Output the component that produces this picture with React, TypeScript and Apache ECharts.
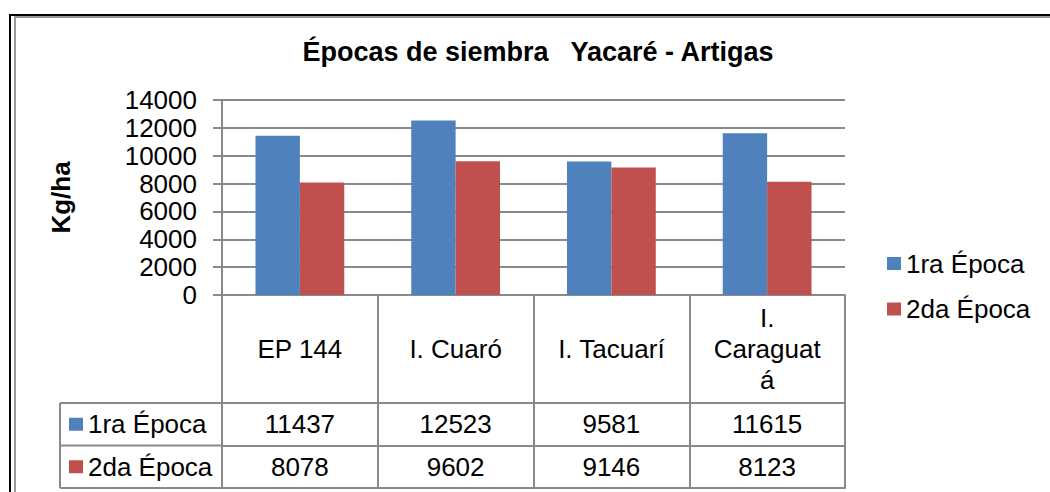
import React, { useEffect, useRef } from "react";
import * as echarts from "echarts";

const titleText = "Épocas de siembra   Yacaré - Artigas";
const yAxisName = "Kg/ha";
const categories = ["EP 144", "I. Cuaró", "I. Tacuarí", "I. Caraguatá"];
const seriesNames = ["1ra Época", "2da Época"];
const primeraEpoca = [11437, 12523, 9581, 11615];
const segundaEpoca = [8078, 9602, 9146, 8123];
const yMin = 0;
const yMax = 14000;
const yInterval = 2000;

const colors = ["#4F81BD", "#C0504D"];
const W = 1050;
const H = 492;
const GRID = { left: 222, right: 205, top: 100, bottom: 197 };
const HEADER_H = 108;
const ROW_H = 42.5;
const ROWHEAD_LEFT = 60;
const FONT = "'Liberation Sans', Arial, sans-serif";
const FS = 26;
const LINE = "#8a8a8a";
const WRAP_W = 114;

// word-wrap like the spreadsheet: break between words, and inside a word that is too long
function wrapLabel(text: string, maxW: number, font: string): string {
  const ctx = document.createElement("canvas").getContext("2d");
  if (!ctx) return text;
  ctx.font = font;
  const w = (s: string) => ctx.measureText(s).width;
  const lines: string[] = [];
  let line = "";
  for (const word of text.split(" ")) {
    const cand = line ? line + " " + word : word;
    if (w(cand) <= maxW) {
      line = cand;
      continue;
    }
    if (line) lines.push(line);
    line = "";
    for (const ch of word) {
      if (w(line + ch) <= maxW || !line) line += ch;
      else {
        lines.push(line);
        line = ch;
      }
    }
  }
  if (line) lines.push(line);
  return lines.join("\n");
}

export default function App() {
  const ref = useRef<HTMLDivElement>(null);
  useEffect(() => {
    const chart = echarts.init(ref.current!, null, { renderer: "svg" });
    const rows = [primeraEpoca, segundaEpoca];
    const axisY0 = H - GRID.bottom;
    const rowTop = axisY0 + HEADER_H;
    const lineStyle = { color: LINE, width: 2 };
    const cssFont = `${FS}px 'Liberation Sans', Arial, sans-serif`;

    const rowAxis = (offset: number, values: number[] | null, tickLen: number) => ({
      type: "category",
      data: categories,
      gridIndex: 0,
      position: "bottom",
      offset,
      axisLine: { show: true, lineStyle },
      axisTick: { show: values !== null, length: tickLen, interval: 0, lineStyle },
      axisLabel: {
        show: values !== null,
        interval: 0,
        margin: tickLen / 2,
        verticalAlign: "middle",
        fontSize: FS,
        fontFamily: FONT,
        color: "#000",
        formatter: (_v: string, i: number) => (values ? String(values[i]) : ""),
      },
      splitLine: { show: false },
    });

    const graphics: any[] = [
      // outer frame
      { type: "rect", shape: { x: 10, y: 15, width: 1200, height: 1200 }, style: { fill: "none", stroke: "#000", lineWidth: 2 }, silent: true },
      { type: "rect", shape: { x: 15, y: 17, width: 1200, height: 1200 }, style: { fill: "none", stroke: "#999", lineWidth: 2 }, silent: true },
      // row header column
      { type: "line", shape: { x1: ROWHEAD_LEFT, y1: rowTop, x2: GRID.left, y2: rowTop }, style: { stroke: LINE, lineWidth: 2 } },
      { type: "line", shape: { x1: ROWHEAD_LEFT, y1: rowTop + ROW_H, x2: GRID.left, y2: rowTop + ROW_H }, style: { stroke: LINE, lineWidth: 2 } },
      { type: "line", shape: { x1: ROWHEAD_LEFT, y1: rowTop + 2 * ROW_H, x2: GRID.left, y2: rowTop + 2 * ROW_H }, style: { stroke: LINE, lineWidth: 2 } },
      { type: "line", shape: { x1: ROWHEAD_LEFT, y1: rowTop, x2: ROWHEAD_LEFT, y2: rowTop + 2 * ROW_H }, style: { stroke: LINE, lineWidth: 2 } },
    ];
    seriesNames.forEach((name, k) => {
      const cy = rowTop + ROW_H * k + ROW_H / 2;
      graphics.push({ type: "rect", shape: { x: ROWHEAD_LEFT + 9, y: cy - 6.5, width: 14, height: 13 }, style: { fill: colors[k] } });
      graphics.push({
        type: "text",
        x: ROWHEAD_LEFT + 28,
        y: cy,
        style: { text: name, fontSize: FS, fontFamily: FONT, fill: "#000", verticalAlign: "middle", align: "left" },
      });
    });

    const option: any = {
      animation: false,
      backgroundColor: "#fff",
      title: {
        text: titleText,
        left: 538,
        textAlign: "center",
        top: 38,
        padding: 0,
        textStyle: { fontSize: 27, fontWeight: "bold", fontFamily: FONT, color: "#000" },
      },
      legend: {
        orient: "vertical",
        left: 887,
        top: 250.5,
        padding: 0,
        itemWidth: 14,
        itemHeight: 13,
        itemGap: 19.5,
        icon: "rect",
        textStyle: { fontSize: FS, fontFamily: FONT, color: "#000" },
        data: seriesNames,
      },
      grid: { ...GRID, containLabel: false },
      xAxis: [
        {
          type: "category",
          data: categories,
          position: "bottom",
          axisLine: { show: true, lineStyle },
          axisTick: { show: true, length: HEADER_H, interval: 0, lineStyle },
          axisLabel: {
            interval: 0,
            margin: HEADER_H / 2,
            verticalAlign: "middle",
            align: "center",
            fontSize: FS,
            fontFamily: FONT,
            color: "#000",
            lineHeight: 31,
            formatter: (v: string) => wrapLabel(v, WRAP_W, cssFont),
          },
        },
        rowAxis(HEADER_H, rows[0], ROW_H),
        rowAxis(HEADER_H + ROW_H, rows[1], ROW_H),
        rowAxis(HEADER_H + 2 * ROW_H, null, 0),
      ],
      yAxis: {
        type: "value",
        min: yMin,
        max: yMax,
        interval: yInterval,
        name: yAxisName,
        nameLocation: "middle",
        nameRotate: 90,
        nameGap: 148,
        nameTextStyle: { fontSize: FS, fontWeight: "bold", fontFamily: FONT, color: "#000" },
        axisLine: { show: true, lineStyle },
        axisTick: { show: true, length: 9, lineStyle },
        axisLabel: { margin: 25, fontSize: FS, fontFamily: FONT, color: "#000", formatter: (v: number) => String(v) },
        splitLine: { show: true, lineStyle },
      },
      series: [
        { name: seriesNames[0], type: "bar", data: primeraEpoca, itemStyle: { color: colors[0] }, barGap: "0%", barCategoryGap: "43%" },
        { name: seriesNames[1], type: "bar", data: segundaEpoca, itemStyle: { color: colors[1] }, barGap: "0%", barCategoryGap: "43%" },
      ],
      graphic: graphics,
    };
    chart.setOption(option);
    return () => chart.dispose();
  }, []);
  return <div ref={ref} style={{ position: "fixed", left: 0, top: 0, width: W, height: H, background: "#fff" }} />;
}
